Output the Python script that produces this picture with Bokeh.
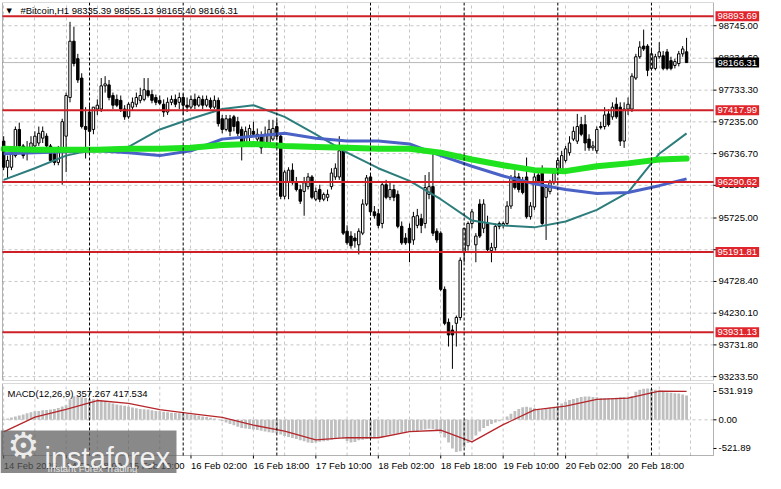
import numpy as np
import pandas as pd
from bokeh.plotting import figure
from bokeh.models import (Range1d, FixedTicker, Span, Label, BoxAnnotation, Grid)
from bokeh.layouts import column
from bokeh.embed import file_html
from bokeh.resources import INLINE

FONT = "Liberation Sans"

# ---------------- data (H1 bars from 14 Feb 2025 02:00) ----------------
bar_start = "2025-02-14 02:00"

open_ = [
    96933, 96522, 96522, 96705, 97116, 96857, 96751, 96827, 96857, 96903,
    96979, 97010, 96857, 96735, 96598, 96781, 97010, 97618, 98502, 98228,
    97923, 97162, 97390, 97116, 97436, 97436, 97801, 97816, 97649, 97588,
    97573, 97436, 97314, 97466, 97512, 97573, 97588, 97725, 97664, 97618,
    97573, 97512, 97390, 97542, 97588, 97542, 97618, 97497, 97466, 97588,
    97497, 97588, 97497, 97573, 97466, 97573, 97284, 97116, 97284, 97314,
    97238, 97116, 96903, 97010, 97086, 96964, 97010, 96857, 96888, 96964,
    97162, 97010, 96066, 96294, 96477, 96294, 96172, 96142, 96218, 96370,
    96020, 96172, 96020, 96050, 96218, 96370, 96370, 96781, 95517, 95441,
    95411, 95304, 95487, 95944, 96370, 95822, 95792, 95639, 96248, 96050,
    96172, 96096, 95594, 95411, 95563, 95380, 95609, 95715, 95639, 96096,
    96218, 95517, 95487, 94604, 94086, 93965, 94071, 94162, 95183, 95289,
    95639, 95304, 95944, 95563, 95639, 95213, 95259, 95594, 95609, 95639,
    95913, 96370, 96370, 96294, 96370, 95746, 95898, 96400, 96446, 96050,
    96142, 96279, 96446, 96477, 96629, 96751, 96964, 96933, 97192, 97192,
    96964, 96827, 96781, 97147, 97162, 97360, 97314, 97512, 97466, 96933,
    97436, 97436, 97923, 98258, 98425, 98425, 98075, 98075, 98258, 98273,
    98334, 98197, 98121, 98151, 98304, 98335.39]

high = [
    97010, 96705, 96827, 97162, 97223, 96888, 96933, 97010, 97086, 97162,
    97162, 97055, 96888, 96781, 96857, 97284, 97695, 98806, 98730, 98304,
    97999, 97466, 97497, 97466, 97588, 97923, 97953, 97893, 97695, 97664,
    97649, 97497, 97542, 97618, 97695, 97771, 97923, 97923, 97740, 97664,
    97649, 97588, 97618, 97649, 97664, 97695, 97679, 97618, 97649, 97679,
    97649, 97649, 97649, 97618, 97649, 97618, 97344, 97344, 97344, 97344,
    97314, 97162, 97162, 97192, 97238, 97131, 97086, 97162, 97268, 97268,
    97268, 97040, 96477, 96522, 96583, 96370, 96248, 96370, 96431, 96400,
    96203, 96248, 96126, 96172, 96507, 96583, 97010, 96857, 95609, 95517,
    95487, 95563, 96020, 96400, 96431, 95913, 95868, 96279, 96324, 96279,
    96248, 96157, 95670, 95487, 95639, 95822, 95868, 95792, 96400, 96446,
    96751, 95563, 95517, 94650, 94147, 94041, 94193, 95106, 95563, 95670,
    95868, 95487, 96020, 96020, 95761, 95335, 95639, 95670, 95670, 95989,
    96400, 96477, 96431, 96370, 96675, 95974, 96431, 96477, 96553, 96248,
    96324, 96477, 96675, 96781, 96857, 97010, 97162, 97360, 97314, 97344,
    97040, 96933, 97162, 97238, 97466, 97436, 97542, 97618, 97542, 97542,
    97618, 97999, 98304, 98502, 98684, 98456, 98380, 98304, 98486, 98349,
    98380, 98258, 98228, 98349, 98425, 98555.13]

low = [
    96477, 96355, 96477, 96675, 96827, 96659, 96629, 96781, 96827, 96857,
    96903, 96827, 96598, 96553, 96553, 96248, 96446, 97542, 98106, 97847,
    97131, 96659, 96857, 97040, 97344, 97390, 97695, 97573, 97436, 97466,
    97390, 97268, 97284, 97421, 97466, 97527, 97558, 97618, 97527, 97497,
    97497, 97314, 97344, 97497, 97466, 97436, 97344, 97390, 97436, 97436,
    97466, 97436, 97466, 97436, 97436, 97162, 97055, 97086, 97010, 97086,
    97010, 96629, 96857, 96933, 97010, 96857, 96735, 96827, 96857, 96933,
    96964, 96020, 96020, 96020, 96248, 96142, 95944, 95761, 96172, 96020,
    95989, 95974, 95989, 95989, 96172, 96324, 96324, 95457, 95304, 95243,
    95259, 95152, 95457, 95913, 95761, 95715, 95563, 95563, 96020, 96005,
    95989, 95563, 95304, 95304, 95030, 95304, 95563, 95487, 95563, 96020,
    95441, 95335, 94574, 94041, 93706, 93356, 93706, 94117, 95030, 95213,
    95563, 95030, 95411, 95487, 95183, 95030, 95213, 95548, 95563, 95594,
    95868, 96172, 96126, 96096, 95715, 95700, 95852, 96248, 95609, 95380,
    96096, 96248, 96400, 96431, 96598, 96705, 96933, 96888, 97010, 96781,
    96781, 96781, 96735, 97116, 97116, 97162, 97268, 97284, 96857, 96827,
    97344, 97390, 97893, 98228, 98349, 97953, 98045, 98045, 98228, 98045,
    98045, 98045, 98075, 98106, 98258, 98165.40]

close = [
    96522, 96629, 96735, 97116, 96857, 96705, 96827, 96903, 97010, 97055,
    97086, 96857, 96629, 96598, 96781, 97238, 97649, 98502, 98151, 97893,
    97162, 97116, 97086, 97466, 97497, 97801, 97832, 97618, 97497, 97497,
    97436, 97314, 97512, 97542, 97618, 97649, 97740, 97649, 97573, 97542,
    97527, 97390, 97542, 97588, 97512, 97618, 97497, 97466, 97588, 97497,
    97618, 97497, 97588, 97466, 97573, 97207, 97116, 97284, 97086, 97162,
    97055, 96903, 97086, 97131, 97040, 97040, 96827, 97040, 97116, 97131,
    97010, 96066, 96446, 96477, 96279, 96172, 95989, 96279, 96370, 96050,
    96142, 96020, 96096, 96096, 96431, 96507, 96781, 95487, 95335, 95289,
    95365, 95517, 95944, 96355, 95822, 95761, 95609, 96248, 96050, 96172,
    96050, 95594, 95335, 95335, 95335, 95746, 95761, 95609, 96203, 96218,
    95487, 95380, 94604, 94071, 93888, 93888, 94162, 95061, 95563, 95639,
    95822, 95441, 95441, 95944, 95228, 95259, 95594, 95639, 95639, 95913,
    96355, 96203, 96172, 96126, 95746, 95913, 96370, 96294, 95639, 96203,
    96279, 96431, 96629, 96705, 96812, 96903, 97086, 97162, 97040, 96903,
    96827, 96857, 97116, 97162, 97344, 97192, 97466, 97314, 96933, 97436,
    97512, 97953, 98258, 98410, 98380, 98045, 98304, 98258, 98334, 98075,
    98075, 98075, 98182, 98304, 98380, 98166.31]

# moving averages, read every 8 bars (bar index)
ma_idx = [0, 8, 16, 24, 32, 40, 48, 56, 64, 72, 80, 88, 96, 104, 112,
          120, 128, 136, 144, 152, 160, 168, 175]
ma_green = [96812, 96796, 96796, 96796, 96812, 96812, 96827, 96872, 96888,
            96857, 96842, 96827, 96812, 96812, 96751, 96644, 96553, 96477,
            96461, 96538, 96583, 96644, 96659]
ma_blue = [96735, 96751, 96766, 96781, 96751, 96705, 96781, 96964, 97010,
           97055, 96979, 96933, 96933, 96888, 96705, 96538, 96385, 96263,
           96172, 96111, 96126, 96233, 96340]
ma_teal = [96324, 96507, 96705, 96812, 96842, 97116, 97284, 97436, 97497,
           97314, 97040, 96751, 96507, 96309, 96020, 95685, 95609, 95578,
           95670, 95852, 96126, 96735, 97055]

# MACD(12,26,9)
macd_hist = [
    5, 20, 35, 50, 65, 80, 95, 110, 125, 130,
    140, 145, 150, 160, 175, 195, 215, 300, 345, 340,
    330, 320, 310, 300, 295, 280, 265, 250, 240, 225,
    215, 205, 195, 180, 170, 160, 155, 150, 140, 130,
    125, 120, 110, 105, 100, 95, 90, 85, 75, 70,
    60, 50, 40, 30, 20, 5, -20, -40, -60, -80,
    -100, -120, -127, -135, -140, -150, -160, -170, -180, -190,
    -197, -215, -235, -250, -265, -280, -300, -315, -330, -340,
    -330, -320, -315, -305, -290, -270, -265, -275, -310, -330,
    -325, -300, -290, -280, -275, -270, -265, -250, -230, -215,
    -205, -200, -190, -180, -175, -175, -170, -150, -140, -130,
    -135, -150, -200, -260, -330, -420, -470, -460, -400, -340,
    -290, -230, -170, -120, -90, -60, -40, -20, -5, 50,
    90, 130, 160, 185, 190, 180, 170, 160, 150, 165,
    180, 190, 200, 240, 265, 290, 305, 320, 335, 340,
    340, 335, 330, 320, 318, 318, 320, 325, 330, 335,
    340, 350, 410, 440, 455, 457, 450, 440, 430, 415,
    400, 395, 390, 385, 370, 357.267]
macd_signal = [-175, 40, 153, 283, 240, 150, 92, 36, -78, -165, -292, -259,
               -262, -172, -152, -322, -70, 145, 200, 300, 317, 420, 417.534]

levels = [98893.69, 97417.99, 96290.62, 95191.81, 93931.13]
last_price = 98166.31
price_ticks = [98745.00, 98234.60, 97733.30, 97235.00, 96736.70, 96238.40,
               95725.00, 95226.70, 94728.40, 94230.10, 93731.80, 93233.50]
macd_ticks = [415, 0, -419]
macd_tick_labels = ["531.919", "0.00", "-521.89"]
time_tick_idx = [0, 16, 32, 48, 64, 80, 96, 112, 128, 144, 160]
time_tick_labels = ["14 Feb 2025", "14 Feb 18:00", "15 Feb 10:00",
                    "16 Feb 02:00", "16 Feb 18:00", "17 Feb 10:00",
                    "18 Feb 02:00", "18 Feb 18:00", "19 Feb 10:00",
                    "20 Feb 02:00", "20 Feb 18:00"]
title_text = "#Bitcoin,H1  98335.39 98555.13 98165.40 98166.31"
macd_title = "MACD(12,26,9) 357.267 417.534"

# ---------------- layout constants (pixels) ----------------
W = 765
PLOT_W = 711          # width of the price / MACD panes
LEFT_PAD = 2
AXIS_W = W - PLOT_W - LEFT_PAD   # right price-scale strip
MAIN_H = 378
MACD_H = 72
XAXIS_H = 18

X0, X1 = -0.3, 181.9                 # visible bar span of the panes
Y0, Y1 = 93172.6, 99110.0            # price span of the main pane
M0, M1 = -521.89, 531.919            # MACD span

sx = (X1 - X0) / PLOT_W
sym = (M1 - M0) / MACD_H

# ---------------- build ----------------
n = len(close)
assert len(open_) == n and len(high) == n and len(low) == n and len(macd_hist) == n
idx = np.arange(n)
times = pd.date_range(bar_start, periods=n, freq="h")
sep_idx = [int(i) for i, t in enumerate(times) if t.hour == 0]
grid_idx = list(range(0, int(X1) + 1, 8))

o = np.array(open_, float); h = np.array(high, float)
l = np.array(low, float); c = np.array(close, float)
up = c >= o

x_range = Range1d(X0 - LEFT_PAD * sx, X1 + AXIS_W * sx)

main = figure(width=W, height=MAIN_H + 4, x_range=x_range,
              y_range=Range1d(Y0, Y1),
              x_axis_location=None, y_axis_location=None,
              toolbar_location=None, output_backend="svg",
              min_border_left=0, min_border_right=0,
              min_border_top=2, min_border_bottom=2)

macd = figure(width=W, height=MACD_H + XAXIS_H + 1, x_range=x_range,
              y_range=Range1d(M0 - XAXIS_H * sym, M1),
              x_axis_location=None, y_axis_location=None,
              toolbar_location=None, output_backend="svg",
              min_border_left=0, min_border_right=0,
              min_border_top=1, min_border_bottom=0)

GRID_C = "#c6c6c6"
for p in (main, macd):
    p.outline_line_color = None
    p.background_fill_color = "white"
    p.border_fill_color = "white"
    p.grid.visible = False

def text_label(p, x, y, text, **kw):
    opts = dict(text_font=FONT, text_font_size="9.5px", text_color="black",
                text_baseline="middle")
    opts.update(kw)
    p.add_layout(Label(x=x, y=y, text=text, **opts))

# ----- main pane -----
main.add_layout(Grid(dimension=0, ticker=FixedTicker(ticks=grid_idx),
                     grid_line_color=GRID_C, grid_line_dash="3 3"))
main.segment(x0=X0, x1=X1, y0=price_ticks, y1=price_ticks,
             line_color=GRID_C, line_dash="3 3", line_width=1)
main.segment(x0=X0, x1=X1, y0=last_price, y1=last_price,
             line_color="#b8b8b8", line_width=1)

# candles
main.segment(x0=idx, y0=l, x1=idx, y1=h, line_color="black", line_width=1)
main.vbar(x=idx[up], top=c[up], bottom=o[up], width=0.62,
          fill_color="white", line_color="black", line_width=1)
main.vbar(x=idx[~up], top=o[~up], bottom=c[~up], width=0.62,
          fill_color="black", line_color="black", line_width=1)

# moving averages
main.line(ma_idx, ma_teal, line_color="#2e7d7d", line_width=2, line_join="round")
main.line(ma_idx, ma_blue, line_color="#4a62c6", line_width=3, line_join="round")
main.line(ma_idx, ma_green, line_color="#1fe31f", line_width=6,
          line_join="round", line_cap="round")

# support / resistance levels
main.segment(x0=X0, x1=X1, y0=levels, y1=levels, line_color="#cf2027", line_width=2)

# separators
for s in sep_idx:
    main.add_layout(Span(location=s, dimension="height", line_color="black",
                         line_dash="3 2", line_width=1))

# price scale
main.segment(x0=X1, x1=X1 + 3 * sx, y0=price_ticks, y1=price_ticks,
             line_color="black", line_width=1)
for t in price_ticks:
    text_label(main, X1, t, f"{t:.2f}", x_offset=5)
for lv in levels:
    text_label(main, X1, lv, f"{lv:.2f}", x_offset=2, text_color="white",
               background_fill_color="#e0262c", padding=2)
text_label(main, X1, last_price, f"{last_price:.2f}", x_offset=2,
           text_color="white", background_fill_color="black", padding=2)

# frame
main.add_layout(BoxAnnotation(left=X0, right=X1, bottom=Y0, top=Y1,
                              fill_color=None, line_color="black", line_width=1))

# title
text_label(main, X0, Y1, "\u25bc", x_offset=4, y_offset=-8,
           text_font="DejaVu Sans", text_font_size="7px")
text_label(main, X0, Y1, title_text, x_offset=18, y_offset=-8)

# ----- MACD pane -----
macd.segment(x0=grid_idx, x1=grid_idx, y0=M0, y1=M1,
             line_color=GRID_C, line_dash="3 3", line_width=1)
macd.segment(x0=X0, x1=X1, y0=0, y1=0, line_color=GRID_C, line_dash="3 3")
macd.vbar(x=idx, top=macd_hist, bottom=0, width=0.72,
          fill_color="#bfbfbf", line_color=None)
macd.line(ma_idx, macd_signal, line_color="#b5262b", line_width=1.3,
          line_join="round")
macd.segment(x0=sep_idx, x1=sep_idx, y0=M0, y1=M1, line_color="black",
             line_dash="3 2", line_width=1)
macd.add_layout(BoxAnnotation(left=X0, right=X1, bottom=M0, top=M1,
                              fill_color=None, line_color="black", line_width=1))
# MACD scale
macd.segment(x0=X1, x1=X1 + 3 * sx, y0=macd_ticks, y1=macd_ticks,
             line_color="black", line_width=1)
for t, lab in zip(macd_ticks, macd_tick_labels):
    text_label(macd, X1, t, lab, x_offset=5)
text_label(macd, X0, M1, macd_title, x_offset=5, y_offset=-10)

# time axis
macd.segment(x0=time_tick_idx, x1=time_tick_idx, y0=M0, y1=M0 - 3 * sym,
             line_color="black", line_width=1)
for t, lab in zip(time_tick_idx, time_tick_labels):
    text_label(macd, t, M0, lab, y_offset=-4, text_baseline="top",
               text_align="left")

# watermark
macd.add_layout(BoxAnnotation(left=0, right=176, bottom=0, top=43,
                              left_units="screen", right_units="screen",
                              bottom_units="screen", top_units="screen",
                              fill_color="#5c5c5c", fill_alpha=0.72,
                              line_alpha=0))
macd.add_layout(Label(x=23, y=28, x_units="screen", y_units="screen",
                      text="\u2699", text_font="DejaVu Sans", text_font_size="36px",
                      text_color="white", text_alpha=0.85,
                      text_align="center", text_baseline="middle"))
macd.add_layout(Label(x=44, y=16, x_units="screen", y_units="screen",
                      text="instaforex", text_font=FONT, text_font_size="29px",
                      text_color="white", text_alpha=0.9,
                      text_baseline="alphabetic"))
macd.add_layout(Label(x=47, y=5, x_units="screen", y_units="screen",
                      text="Instant Forex Trading", text_font=FONT,
                      text_font_size="9.5px", text_color="#e4e4e4",
                      text_baseline="alphabetic"))

layout = column(main, macd, spacing=0)
open("out.html", "w").write(file_html(layout, INLINE))
